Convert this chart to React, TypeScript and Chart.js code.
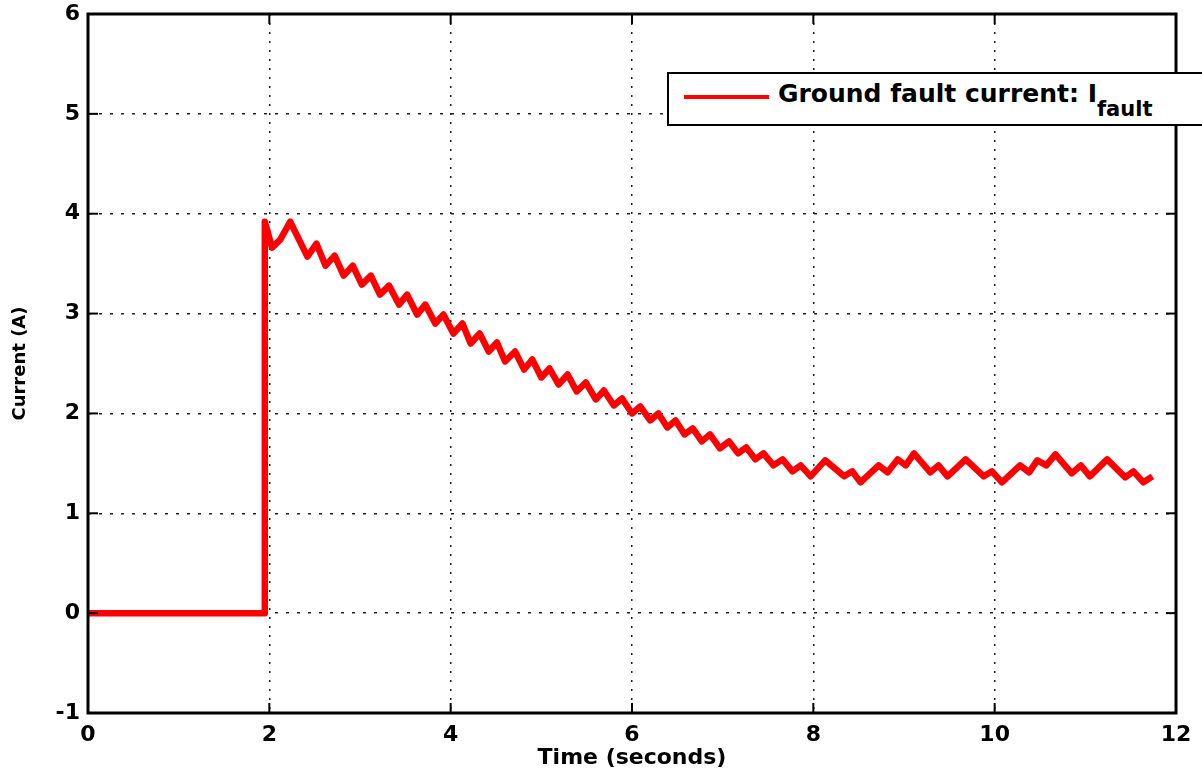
import React, { useEffect, useRef } from "react";
import { Chart, registerables } from "chart.js";

Chart.register(...registerables);

// ---- data ----
const faultTime = [
  0, 1.95, 1.95, 2.03, 2.12, 2.23, 2.42, 2.52, 2.62, 2.72, 2.82, 2.92, 3.02, 3.12,
  3.22, 3.32, 3.43, 3.52, 3.63, 3.72, 3.83, 3.92, 4.03, 4.13, 4.22, 4.32, 4.42,
  4.51, 4.6, 4.71, 4.81, 4.9, 5.0, 5.09, 5.19, 5.29, 5.39, 5.49, 5.6, 5.69, 5.8,
  5.89, 6.0, 6.09, 6.2, 6.29, 6.39, 6.48, 6.58, 6.67, 6.77, 6.86, 6.97, 7.07,
  7.17, 7.26, 7.36, 7.45, 7.56, 7.66, 7.77, 7.86, 7.97, 8.13, 8.34, 8.43, 8.52,
  8.72, 8.82, 8.93, 9.02, 9.11, 9.29, 9.38, 9.48, 9.68, 9.88, 9.97, 10.08, 10.28,
  10.38, 10.47, 10.57, 10.67, 10.85, 10.95, 11.05, 11.24, 11.44, 11.53, 11.64,
  11.74,
];
const faultCurrent = [
  0, 0, 3.92, 3.66, 3.74, 3.92, 3.57, 3.7, 3.48, 3.58, 3.38, 3.48, 3.29, 3.38,
  3.19, 3.28, 3.09, 3.19, 2.99, 3.09, 2.9, 2.99, 2.8, 2.9, 2.7, 2.8, 2.62, 2.71,
  2.52, 2.62, 2.44, 2.54, 2.36, 2.45, 2.29, 2.39, 2.22, 2.31, 2.14, 2.23, 2.08,
  2.15, 2.0, 2.07, 1.93, 2.0, 1.86, 1.93, 1.79, 1.85, 1.72, 1.79, 1.65, 1.72,
  1.6, 1.66, 1.54, 1.6, 1.48, 1.54, 1.42, 1.48, 1.37, 1.53, 1.37, 1.42, 1.31,
  1.48, 1.41, 1.54, 1.48, 1.6, 1.41, 1.48, 1.37, 1.54, 1.37, 1.42, 1.31, 1.48,
  1.41, 1.53, 1.48, 1.59, 1.4, 1.48, 1.37, 1.54, 1.36, 1.42, 1.31, 1.37,
];
const xTicks = [0, 2, 4, 6, 8, 10, 12];
const yTicks = [-1, 0, 1, 2, 3, 4, 5, 6];
const xTitle = "Time (seconds)";
const yTitle = "Current (A)";
const legendLabel = "Ground fault current: I";
const legendSub = "fault";

const FONT = "'DejaVu Sans', 'Liberation Sans', Arial, sans-serif";

const framePlugin = {
  id: "frame",
  afterDatasetsDraw(chart: any) {
    const { ctx, chartArea, scales } = chart;
    const { left, right, top, bottom } = chartArea;
    const xs = scales.x;
    const ys = scales.y;
    ctx.save();
    ctx.strokeStyle = "#000";
    ctx.setLineDash([]);
    ctx.lineWidth = 2;
    const seg = (a: number, b: number, c: number, d: number) => {
      ctx.beginPath();
      ctx.moveTo(a, b);
      ctx.lineTo(c, d);
      ctx.stroke();
    };
    xs.ticks.forEach((t: any) => {
      const px = xs.getPixelForValue(t.value);
      seg(px, bottom, px, bottom - 10);
      seg(px, top, px, top + 10);
    });
    ys.ticks.forEach((t: any) => {
      const py = ys.getPixelForValue(t.value);
      seg(left, py, left + 10, py);
      seg(right, py, right - 10, py);
    });
    ctx.lineWidth = 3;
    ctx.strokeRect(left, top, right - left, bottom - top);
    ctx.restore();
  },
};

export default function App() {
  const ref = useRef<HTMLCanvasElement | null>(null);

  useEffect(() => {
    if (!ref.current) return;
    const chart = new Chart(ref.current, {
      type: "line",
      data: {
        datasets: [
          {
            label: legendLabel + legendSub,
            data: faultTime.map((t, i) => ({ x: t, y: faultCurrent[i] })),
            borderColor: "#ff0000",
            borderWidth: 6.5,
            pointRadius: 0,
            tension: 0,
            fill: false,
            borderJoinStyle: "round",
            borderCapStyle: "butt",
          },
        ],
      },
      options: {
        animation: false,
        responsive: false,
        devicePixelRatio: 1,
        layout: { padding: { top: 14, right: 26, left: 0, bottom: 0 } },
        plugins: {
          legend: { display: false },
          tooltip: { enabled: false },
        },
        scales: {
          x: {
            type: "linear",
            min: 0,
            max: 12,
            afterBuildTicks: (s: any) => {
              s.ticks = xTicks.map((v) => ({ value: v }));
            },
            afterFit: (s: any) => {
              s.height = 61;
              s.paddingLeft = 0;
              s.paddingRight = 0;
            },
            grid: {
              color: "#222",
              lineWidth: 1.5,
              drawTicks: false,
            },
            border: { display: false, dash: [2, 7] },
            ticks: {
              color: "#000",
              padding: 9,
              maxRotation: 0,
              autoSkip: false,
              font: { family: FONT, size: 22, weight: "bold" },
            },
            title: {
              display: true,
              text: xTitle,
              color: "#000",
              padding: { top: 0, bottom: 3 },
              font: { family: FONT, size: 22, weight: "bold" },
            },
          },
          y: {
            type: "linear",
            min: -1,
            max: 6,
            afterBuildTicks: (s: any) => {
              s.ticks = yTicks.map((v) => ({ value: v }));
            },
            afterFit: (s: any) => {
              s.width = 88;
              s.paddingTop = 0;
              s.paddingBottom = 0;
            },
            grid: {
              color: "#222",
              lineWidth: 1.5,
              drawTicks: false,
            },
            border: { display: false, dash: [3, 8] },
            ticks: {
              color: "#000",
              padding: 8,
              autoSkip: false,
              font: { family: FONT, size: 22, weight: "bold" },
            },
            title: {
              display: true,
              text: yTitle,
              color: "#000",
              padding: { top: 10, bottom: 0 },
              font: { family: FONT, size: 18, weight: "bold" },
            },
          },
        },
      },
      plugins: [framePlugin],
    } as any);
    return () => chart.destroy();
  }, []);

  return (
    <div
      style={{
        position: "fixed",
        left: 0,
        top: 0,
        width: 1202,
        height: 774,
        overflow: "hidden",
        background: "#fff",
      }}
    >
      <canvas ref={ref} width={1202} height={774} style={{ display: "block" }} />
      <div
        style={{
          position: "absolute",
          left: 667,
          top: 72,
          width: 600,
          height: 50,
          border: "2px solid #000",
          background: "#fff",
          boxSizing: "content-box",
        }}
      >
        <div
          style={{
            position: "absolute",
            left: 15,
            top: 21,
            width: 85,
            height: 4,
            background: "#ff0000",
          }}
        />
        <div
          style={{
            position: "absolute",
            left: 109,
            top: 7,
            whiteSpace: "nowrap",
            fontFamily: FONT,
            fontWeight: "bold",
            fontSize: 25,
            lineHeight: "25px",
            color: "#000",
          }}
        >
          {legendLabel}
          <span style={{ fontSize: 21, verticalAlign: "-14px" }}>{legendSub}</span>
        </div>
      </div>
    </div>
  );
}
